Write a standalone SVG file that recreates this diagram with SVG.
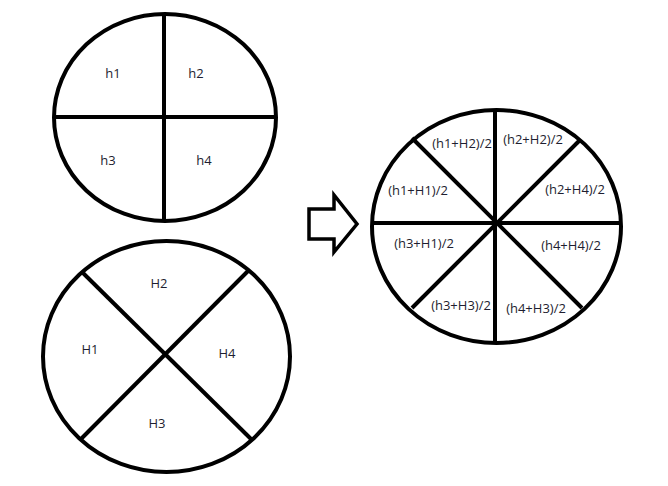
<svg xmlns="http://www.w3.org/2000/svg" width="668" height="486" viewBox="0 0 668 486">
<style>
.o{fill:none;stroke:#000;stroke-width:4}
.l{stroke:#000;stroke-width:4;stroke-linecap:butt}
text{font-family:"Open Sans","Liberation Sans",sans-serif;font-size:13px;fill:#1e1e30;text-anchor:middle}
</style>
<rect width="668" height="486" fill="#fff"/>
<g id="top-circle">
<ellipse class="o" cx="165" cy="117.5" rx="111" ry="103.5"/>
<line class="l" x1="164" y1="14" x2="164" y2="221"/>
<line class="l" x1="54" y1="117" x2="276" y2="117"/>
<text x="113" y="78">h1</text>
<text x="196" y="78">h2</text>
<text x="108" y="165">h3</text>
<text x="204" y="165">h4</text>
</g>
<g id="bottom-circle">
<ellipse class="o" cx="166.5" cy="356.5" rx="123.5" ry="115.5"/>
<line class="l" x1="82" y1="272" x2="251" y2="439"/>
<line class="l" x1="248" y1="271" x2="80" y2="440"/>
<text x="159" y="288">H2</text>
<text x="90" y="354">H1</text>
<text x="227" y="358">H4</text>
<text x="157" y="428">H3</text>
</g>
<g id="arrow">
<polygon points="309,209 334,209 334,195 357,224 334,252 334,239 309,239" fill="#fff" stroke="#000" stroke-width="3.5" stroke-linejoin="miter"/>
</g>
<g id="result-circle">
<ellipse class="o" cx="496.5" cy="226.5" rx="124.5" ry="116.5"/>
<line class="l" x1="495" y1="110" x2="495" y2="343"/>
<line class="l" x1="372" y1="223" x2="621" y2="223"/>
<line class="l" x1="412" y1="138" x2="582" y2="308"/>
<line class="l" x1="580" y1="140" x2="412" y2="308"/>
<text x="462" y="148">(h1+H2)/2</text>
<text x="533" y="144">(h2+H2)/2</text>
<text x="418" y="195">(h1+H1)/2</text>
<text x="575" y="194">(h2+H4)/2</text>
<text x="424" y="248">(h3+H1)/2</text>
<text x="571" y="250">(h4+H4)/2</text>
<text x="461" y="310">(h3+H3)/2</text>
<text x="536" y="313">(h4+H3)/2</text>
</g>
</svg>
